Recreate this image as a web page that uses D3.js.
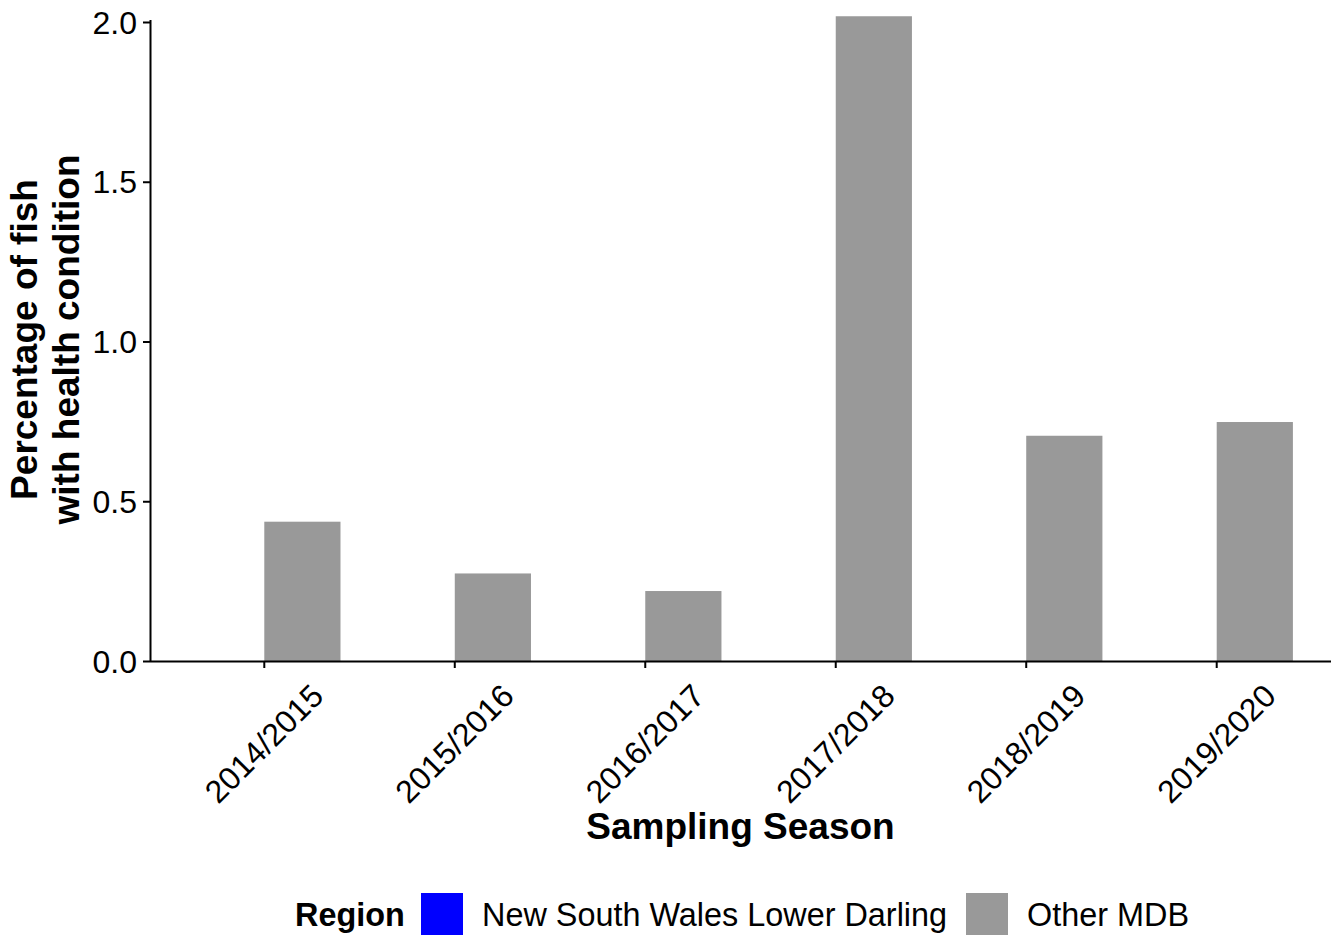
<!DOCTYPE html>
<html>
<head>
<meta charset="utf-8">
<script src="https://cdn.jsdelivr.net/npm/d3@7"></script>
<style>
  html, body { margin: 0; padding: 0; background: #fff; }
  svg { display: block; font-family: "Liberation Sans", Arial, sans-serif; }
</style>
</head>
<body>
<svg id="chart" width="1333" height="936"></svg>
<script>
// Sampling seasons and percentage of fish with a health condition, by region
const seasons = ["2014/2015", "2015/2016", "2016/2017", "2017/2018", "2018/2019", "2019/2020"];
const regions = ["New South Wales Lower Darling", "Other MDB"];
const nswLowerDarling = [0, 0, 0, 0, 0, 0];
const otherMDB = [0.436, 0.274, 0.219, 2.018, 0.705, 0.748];
const yTicks = [0, 0.5, 1.0, 1.5, 2.0];
const regionColours = ["#0000ff", "#999999"];

const FONT = "Liberation Sans, Arial, sans-serif";
const svg = d3.select("#chart");
const panel = { left: 150, right: 1331, top: 22, bottom: 661 };

const x = d3.scaleBand().domain(seasons)
  .range([panel.left, panel.right]).paddingInner(0.2).paddingOuter(0.2);
const xSub = d3.scaleBand().domain(regions).range([0, x.bandwidth()]);
const y = d3.scaleLinear().domain([0, 2.0]).range([panel.bottom, panel.top]);
const colour = d3.scaleOrdinal().domain(regions).range(regionColours);

const rows = seasons.flatMap((s, i) => [
  { season: s, region: regions[0], value: nswLowerDarling[i] },
  { season: s, region: regions[1], value: otherMDB[i] }
]);

// Bars
svg.append("g").selectAll("rect").data(rows).join("rect")
  .attr("x", d => x(d.season) + xSub(d.region))
  .attr("y", d => y(d.value))
  .attr("width", xSub.bandwidth())
  .attr("height", d => y(0) - y(d.value))
  .attr("fill", d => colour(d.region));

// Y axis
const yAxis = svg.append("g")
  .attr("transform", `translate(${panel.left},0)`)
  .call(d3.axisLeft(y).tickValues(yTicks).tickFormat(d3.format(".1f")).tickSize(7).tickPadding(6));
yAxis.attr("font-family", FONT);
yAxis.select(".domain").attr("stroke", "#000").attr("stroke-width", 2)
  .attr("d", `M0.5,${panel.top - 2}V${panel.bottom}`);
yAxis.selectAll(".tick line").attr("stroke", "#000").attr("stroke-width", 2);
yAxis.selectAll(".tick text").attr("fill", "#000").style("font-size", "32px")
  .attr("dy", "0.35em");

// X axis
const xAxis = svg.append("g")
  .attr("transform", `translate(0,${panel.bottom})`)
  .call(d3.axisBottom(x).tickSize(7).tickSizeOuter(0));
xAxis.attr("font-family", FONT);
xAxis.select(".domain").attr("stroke", "#000").attr("stroke-width", 2)
  .attr("d", `M${panel.left},0.5H${panel.right}`);
xAxis.selectAll(".tick line").attr("stroke", "#000").attr("stroke-width", 2);
xAxis.selectAll(".tick text")
  .attr("fill", "#000").style("font-size", "32px")
  .attr("text-anchor", "end")
  .attr("dy", null).attr("y", 0)
  .attr("transform", "translate(61,37) rotate(-45)");

// Axis titles
svg.append("text")
  .attr("x", (panel.left + panel.right) / 2).attr("y", 839)
  .attr("text-anchor", "middle")
  .style("font-size", "37px").style("font-weight", "bold")
  .text("Sampling Season");

const yTitle = svg.append("text")
  .attr("transform", `translate(0,${(panel.top + panel.bottom) / 2 - 2}) rotate(-90)`)
  .attr("text-anchor", "middle")
  .style("font-size", "37px").style("font-weight", "bold");
yTitle.append("tspan").attr("x", 0).attr("y", 37).text("Percentage of fish");
yTitle.append("tspan").attr("x", 0).attr("y", 79).text("with health condition");

// Legend
const legend = svg.append("g");
legend.append("text").attr("x", 295).attr("y", 926)
  .style("font-size", "32.4px").style("font-weight", "bold").text("Region");
const keyX = [421, 966];
const labelX = [482, 1027];
regions.forEach((r, i) => {
  legend.append("rect").attr("x", keyX[i]).attr("y", 893)
    .attr("width", 42).attr("height", 42).attr("fill", colour(r));
  legend.append("text").attr("x", labelX[i]).attr("y", 926)
    .style("font-size", "32.4px").text(r);
});
</script>
</body>
</html>
